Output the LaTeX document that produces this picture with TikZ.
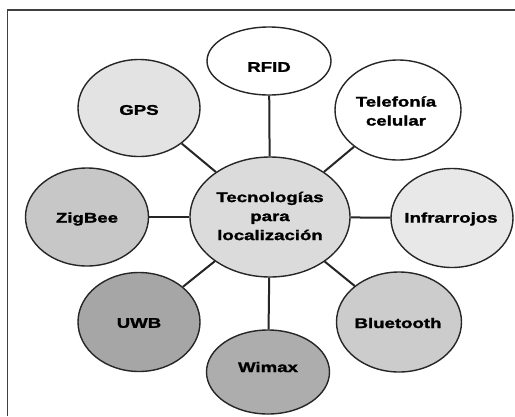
\documentclass[tikz,border=0pt]{standalone}
\usepackage{fontspec}
\newfontfamily\lblfont[FakeStretch=1.33, BoldFeatures={FakeBold=1.6}]{Liberation Sans}
\usetikzlibrary{shapes.geometric}
\definecolor{shadeA}{gray}{0.89}
\definecolor{shadeB}{gray}{0.86}
\definecolor{shadeC}{gray}{0.78}
\definecolor{shadeD}{gray}{0.80}
\definecolor{shadeE}{gray}{0.65}
\definecolor{shadeF}{gray}{0.68}
\definecolor{shadeG}{gray}{0.91}
\begin{document}
\begin{tikzpicture}[x=1pt,y=-1pt,
  bubble/.style={ellipse, draw=black!85, line width=1.4pt, inner sep=0pt},
  lbl/.style={font=\lblfont\bfseries\fontsize{14}{19}\selectfont, align=center, inner sep=0pt, text=black},
  link/.style={draw=black!85, line width=2pt}]
\useasboundingbox (0,0) rectangle (515,416);
\fill[white] (0,0) rectangle (515,416);
% open frame (left and top edges)
\draw[black!75, line width=1.5pt] (7.5,416) -- (7.5,10) -- (515,10);

% bubbles
\node[bubble, fill=shadeB, minimum width=160pt, minimum height=120pt] (hub) at (270,217) {};
\node[bubble, fill=white,  minimum width=124pt, minimum height=68pt]  (rfid) at (269,61) {};
\node[bubble, fill=shadeA, minimum width=122pt, minimum height=97pt]  (gps)  at (139,108) {};
\node[bubble, fill=white,  minimum width=126pt, minimum height=100pt] (tel)  at (398,110) {};
\node[bubble, fill=shadeC, minimum width=123pt, minimum height=98pt]  (zig)  at (87,217) {};
\node[bubble, fill=shadeG, minimum width=122pt, minimum height=99pt]  (ir)   at (452,218) {};
\node[bubble, fill=shadeE, minimum width=122pt, minimum height=99pt]  (uwb)  at (139,322) {};
\node[bubble, fill=shadeD, minimum width=125pt, minimum height=100pt] (bt)   at (399,322) {};
\node[bubble, fill=shadeF, minimum width=123pt, minimum height=84pt]  (wmx)  at (268,372) {};

% connectors from the hub
\foreach \n in {rfid,gps,tel,zig,ir,uwb,bt,wmx}
  \draw[link] (hub) -- (\n);

% labels
\node[lbl] (hub-t)  at (270,216) {Tecnologías\\para\\localización};
\node[lbl] (rfid-t) at (269,67)  {RFID};
\node[lbl] (gps-t)  at (139,110) {GPS};
\node[lbl] (tel-t)  at (396,111) {Telefonía\\celular};
\node[lbl] (zig-t)  at (87,219)  {ZigBee};
\node[lbl] (ir-t)   at (451,219) {Infrarrojos};
\node[lbl] (uwb-t)  at (139,323) {UWB};
\node[lbl] (bt-t)   at (398,323) {Bluetooth};
\node[lbl] (wmx-t)  at (268,367) {Wimax};
\end{tikzpicture}
\end{document}
